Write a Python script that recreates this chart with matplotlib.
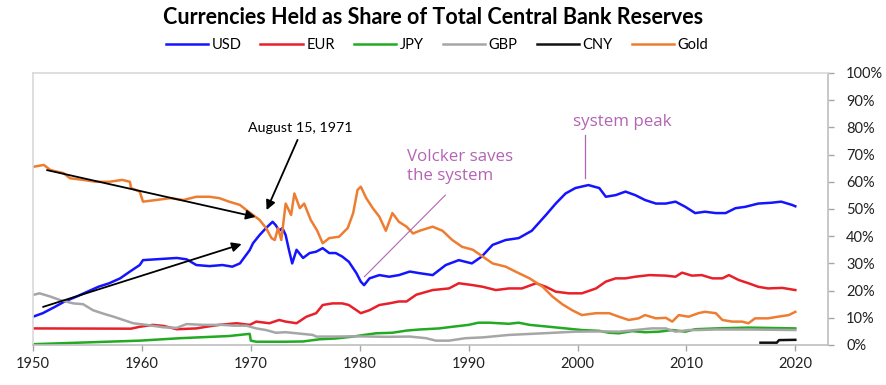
import matplotlib
matplotlib.use("Agg")
import matplotlib.pyplot as plt
from matplotlib.ticker import PercentFormatter

# ---- data (year, share) ----
usd = [(1950, 0.104), (1950.9, 0.117), (1952, 0.14), (1952.9, 0.16), (1954, 0.178), (1955, 0.196),
       (1956, 0.214), (1957, 0.227), (1958, 0.245), (1958.9, 0.27), (1959.8, 0.294), (1960.1, 0.312),
       (1963.2, 0.32), (1964.1, 0.315), (1965, 0.294), (1966.2, 0.29), (1967.4, 0.294), (1968.3, 0.288),
       (1969, 0.30), (1969.9, 0.349), (1970.2, 0.374), (1970.8, 0.404), (1971.4, 0.43), (1972, 0.453),
       (1972.3, 0.44), (1972.6, 0.42), (1972.9, 0.43), (1973.2, 0.404), (1973.5, 0.35), (1973.8, 0.30),
       (1974.2, 0.35), (1974.8, 0.32), (1975.4, 0.338), (1976, 0.343), (1976.6, 0.356), (1977.2, 0.338),
       (1977.8, 0.338), (1978.4, 0.325), (1979, 0.306), (1979.7, 0.264), (1980.1, 0.233), (1980.4, 0.22),
       (1980.9, 0.245), (1981.8, 0.257), (1982.7, 0.251), (1983.6, 0.257), (1984.6, 0.27), (1985.5, 0.264),
       (1986.7, 0.257), (1987.9, 0.294), (1989.1, 0.312), (1990.3, 0.30), (1991.2, 0.325), (1992.2, 0.368),
       (1993.4, 0.386), (1994.6, 0.393), (1995.8, 0.42), (1997.1, 0.478), (1998, 0.52), (1998.9, 0.557),
       (1999.8, 0.577), (2001, 0.588), (2002, 0.577), (2002.6, 0.545), (2003.5, 0.551), (2004.4, 0.564),
       (2005.3, 0.551), (2006.2, 0.533), (2007.2, 0.52), (2008.1, 0.52), (2009, 0.527), (2009.9, 0.508),
       (2010.8, 0.485), (2011.7, 0.49), (2012.7, 0.485), (2013.6, 0.485), (2014.5, 0.503), (2015.4, 0.508),
       (2016.6, 0.52), (2017.8, 0.523), (2018.7, 0.527), (2019.7, 0.515), (2020, 0.51)]

eur = [(1950, 0.061), (1959, 0.06), (1959.8, 0.067), (1961, 0.074), (1962, 0.07), (1963.2, 0.058),
       (1965, 0.061), (1965.9, 0.067), (1967.1, 0.074), (1968.7, 0.08), (1969.9, 0.074), (1970.5, 0.086),
       (1971.7, 0.08), (1972.6, 0.092), (1973.2, 0.086), (1974.2, 0.08), (1975.1, 0.104), (1976, 0.117),
       (1976.6, 0.147), (1977.5, 0.153), (1978.4, 0.153), (1979, 0.147), (1979.7, 0.128), (1980.1, 0.117),
       (1980.9, 0.128), (1981.8, 0.147), (1982.7, 0.153), (1983.6, 0.16), (1984.3, 0.16), (1985.2, 0.185),
       (1986.7, 0.202), (1988.2, 0.208), (1989.1, 0.227), (1990.4, 0.22), (1991.3, 0.214), (1992.5, 0.202),
       (1993.7, 0.208), (1994.9, 0.208), (1996.2, 0.227), (1997.1, 0.214), (1998, 0.196), (1999.2, 0.19),
       (2000.4, 0.19), (2001.7, 0.208), (2002.6, 0.233), (2003.5, 0.245), (2004.4, 0.245), (2005.3, 0.251),
       (2006.6, 0.257), (2008.1, 0.255), (2009, 0.251), (2009.6, 0.266), (2010.5, 0.255), (2011.4, 0.257),
       (2012.4, 0.245), (2013.3, 0.245), (2013.9, 0.257), (2014.8, 0.239), (2015.7, 0.227), (2016.6, 0.214),
       (2017.5, 0.208), (2018.8, 0.21), (2020, 0.202)]

jpy = [(1950, 0.003), (1959.8, 0.016), (1963.5, 0.025), (1968, 0.033), (1969.9, 0.041), (1970.0, 0.016),
       (1970.5, 0.012), (1973.2, 0.012), (1974.8, 0.013), (1976.3, 0.021), (1977.8, 0.024), (1979.4, 0.031),
       (1980.4, 0.037), (1981.5, 0.043), (1983, 0.045), (1984.3, 0.053), (1985.5, 0.057), (1987.3, 0.061),
       (1988.5, 0.067), (1990, 0.074), (1990.9, 0.082), (1991.9, 0.082), (1993.7, 0.078), (1994.6, 0.082),
       (1995.6, 0.074), (1997.4, 0.067), (1998.9, 0.061), (2000.4, 0.055), (2002, 0.052), (2002.9, 0.045),
       (2003.8, 0.043), (2005, 0.051), (2006.2, 0.047), (2007.5, 0.049), (2008.7, 0.055), (2009.9, 0.049),
       (2010.8, 0.058), (2012.7, 0.061), (2015.7, 0.064), (2020, 0.061)]

gbp = [(1950, 0.184), (1950.6, 0.19), (1951.6, 0.178), (1952.5, 0.165), (1953.7, 0.153), (1954.6, 0.15),
       (1955.5, 0.128), (1956.4, 0.116), (1957.4, 0.104), (1958.3, 0.092), (1959.2, 0.08), (1960.4, 0.074),
       (1962, 0.065), (1963.2, 0.063), (1964.1, 0.077), (1965.6, 0.074), (1967.4, 0.074), (1968.4, 0.071),
       (1969.6, 0.071), (1970.5, 0.061), (1971.4, 0.055), (1972.3, 0.045), (1973.2, 0.047), (1974.2, 0.043),
       (1975.7, 0.037), (1976, 0.031), (1977.8, 0.031), (1979.4, 0.032), (1981, 0.031), (1982.4, 0.030),
       (1984.6, 0.031), (1986.1, 0.025), (1987, 0.016), (1988.2, 0.016), (1989.7, 0.025), (1991.3, 0.028),
       (1993.7, 0.037), (1996.8, 0.043), (1999.8, 0.049), (2002.3, 0.05), (2003.8, 0.049), (2005.3, 0.055),
       (2006.8, 0.061), (2008.1, 0.061), (2009, 0.049), (2010.2, 0.055), (2011.1, 0.055), (2012.7, 0.057),
       (2015.7, 0.057), (2020, 0.055)]

cny = [(2016.8, 0.0085), (2018.3, 0.0085), (2018.5, 0.018), (2020, 0.019)]

gold = [(1950, 0.655), (1951, 0.662), (1951.6, 0.643), (1952.8, 0.632), (1953.4, 0.613), (1954.6, 0.607),
        (1955.8, 0.60), (1957, 0.60), (1958.2, 0.607), (1958.9, 0.60), (1959.0, 0.577), (1959.8, 0.564),
        (1960.1, 0.527), (1961.3, 0.533), (1962.6, 0.54), (1963.8, 0.533), (1965, 0.545), (1966.2, 0.545),
        (1967.1, 0.54), (1968, 0.527), (1969, 0.515), (1969.6, 0.496), (1970.2, 0.478), (1970.8, 0.46),
        (1971.4, 0.43), (1971.9, 0.393), (1972.2, 0.386), (1972.5, 0.43), (1972.8, 0.386), (1973.2, 0.52),
        (1973.7, 0.478), (1974.0, 0.557), (1974.5, 0.503), (1974.9, 0.52), (1975.5, 0.46), (1976.1, 0.42),
        (1976.6, 0.374), (1977.2, 0.393), (1978.1, 0.398), (1978.9, 0.43), (1979.4, 0.485), (1979.8, 0.57),
        (1980.1, 0.582), (1980.6, 0.54), (1981.2, 0.503), (1981.8, 0.472), (1982.4, 0.42), (1983.0, 0.485),
        (1983.6, 0.453), (1984.3, 0.435), (1984.9, 0.41), (1985.5, 0.42), (1986.7, 0.435), (1987.6, 0.42),
        (1988.5, 0.386), (1989.4, 0.361), (1990.4, 0.35), (1991.3, 0.325), (1992.2, 0.30), (1993.4, 0.288),
        (1994.3, 0.27), (1995.6, 0.245), (1996.8, 0.214), (1997.7, 0.178), (1998.6, 0.15), (1999.5, 0.128),
        (2000.4, 0.11), (2001.7, 0.117), (2002.9, 0.117), (2003.8, 0.104), (2004.7, 0.092), (2005.6, 0.098),
        (2006.2, 0.11), (2007.2, 0.098), (2008.1, 0.10), (2008.7, 0.086), (2009.3, 0.11), (2010.2, 0.104),
        (2011.1, 0.117), (2011.7, 0.122), (2012.7, 0.117), (2013.3, 0.092), (2014.2, 0.086), (2015.1, 0.086),
        (2015.7, 0.08), (2016.3, 0.098), (2017.5, 0.098), (2018.4, 0.104), (2019.4, 0.11), (2020, 0.122)]

series_names = ["USD", "EUR", "JPY", "GBP", "CNY", "Gold"]
series_data = [usd, eur, jpy, gbp, cny, gold]
series_colors = ["#1414ff", "#e8202a", "#22aa22", "#a6a6a6", "#111111", "#ee7d31"]

x_ticks = [1950, 1960, 1970, 1980, 1990, 2000, 2010, 2020]
y_ticks = [i / 10 for i in range(11)]

title = "Currencies Held as Share of Total Central Bank Reserves"

plt.rcParams["font.family"] = ["Lato", "DejaVu Sans"]

fig = plt.figure(figsize=(8.87, 3.85), dpi=100)
ax = fig.add_axes([33 / 887, 40 / 385, (828 - 33) / 887, (345 - 73) / 385])

for name, data, col in zip(series_names, series_data, series_colors):
    xs = [p[0] for p in data]
    ys = [p[1] for p in data]
    ax.plot(xs, ys, color=col, lw=1.8, label=name, solid_joinstyle="round")

ax.set_xlim(1950, 2023)
ax.set_ylim(0, 1)
ax.set_xticks(x_ticks)
ax.set_yticks(y_ticks)
ax.yaxis.tick_right()
ax.yaxis.set_major_formatter(PercentFormatter(1.0, decimals=0))
ax.tick_params(axis="both", colors="#a6a6a6", labelcolor="#222222", labelsize=10.5, length=4, width=1)
ax.tick_params(axis="x", pad=5)
ax.tick_params(axis="y", pad=9)
for s in ["top", "left"]:
    ax.spines[s].set_color("#d9d9d9")
for s in ["bottom", "right"]:
    ax.spines[s].set_color("#bfbfbf")
for s in ax.spines.values():
    s.set_linewidth(1.2)

fig.text(433 / 887, 1 - 18 / 385, title, ha="center", va="center", fontsize=15.5, fontweight="bold")
fig.legend(loc="center", bbox_to_anchor=(437 / 887, 1 - 45 / 385), ncol=6, frameon=False,
           fontsize=10.5, handlelength=2.9, handletextpad=0.25, columnspacing=1.3)

arrow = dict(arrowstyle="-|>", color="black", lw=1.3, mutation_scale=14, shrinkA=0, shrinkB=0)
ax.annotate("", xy=(1970.44, 0.471), xytext=(1951.28, 0.643), arrowprops=arrow)
ax.annotate("", xy=(1969.16, 0.371), xytext=(1950.92, 0.140), arrowprops=arrow)
ax.annotate("", xy=(1971.45, 0.496), xytext=(1974.29, 0.754), arrowprops=arrow)
ax.text(1974.5, 0.798, "August 15, 1971", ha="center", va="center", fontsize=10.3, color="black")

purple = "#b464b4"
ax.text(1984.37, 0.657, "Volcker saves\nthe system", ha="left", va="center", fontsize=12.2,
        color=purple, linespacing=1.25, family=["Open Sans", "DejaVu Sans"])
ax.plot([1987.86, 1980.43], [0.551, 0.251], color=purple, lw=0.8)
ax.text(2004.08, 0.821, "system peak", ha="center", va="center", fontsize=12.2, color=purple,
        family=["Open Sans", "DejaVu Sans"])
ax.plot([2000.69, 2000.69], [0.772, 0.613], color=purple, lw=0.9)

fig.savefig("out.png", dpi=100)
